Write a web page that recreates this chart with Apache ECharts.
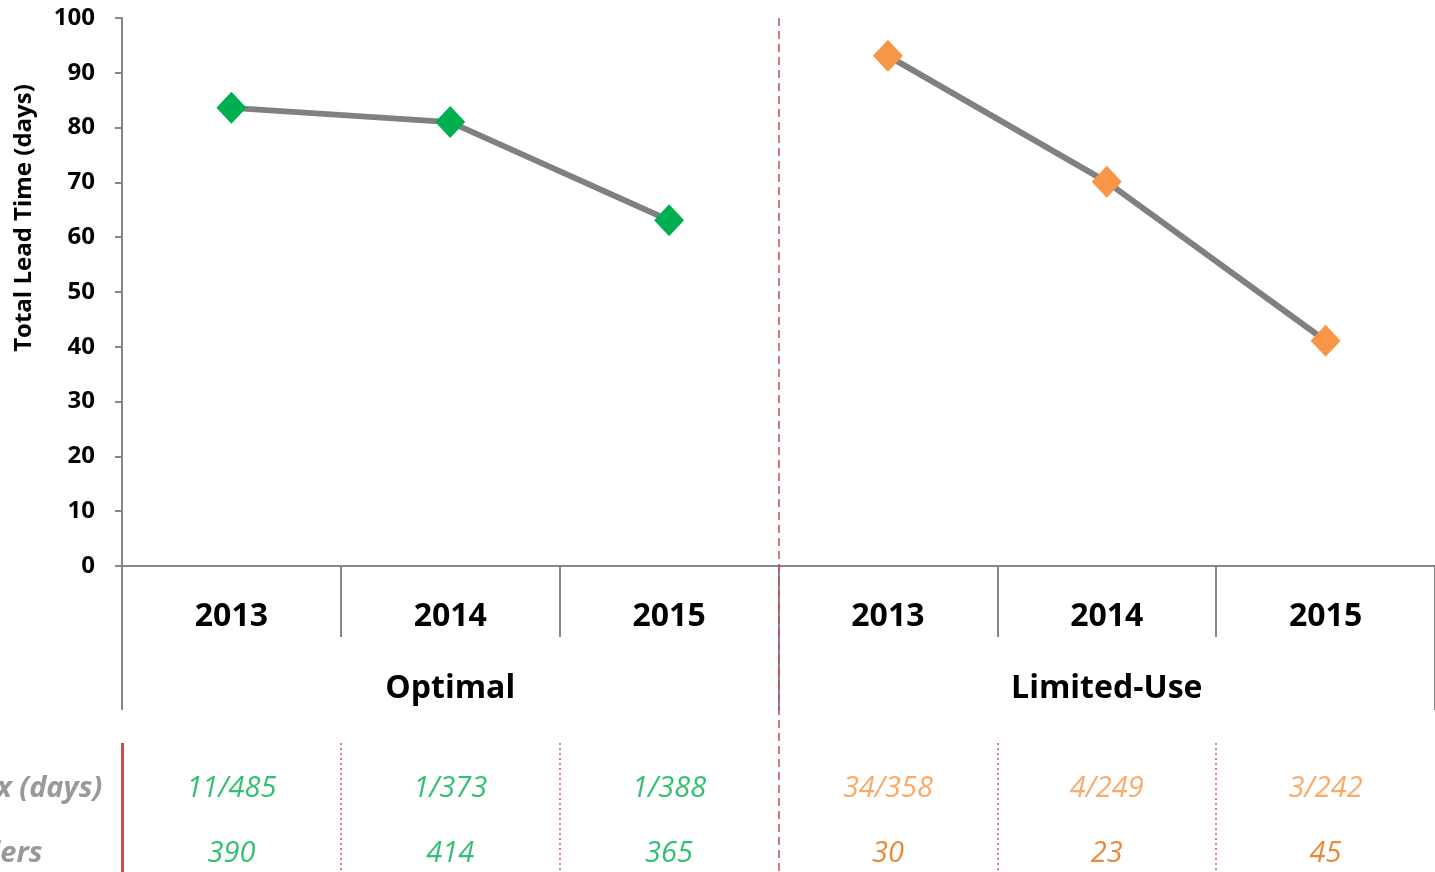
<!DOCTYPE html>
<html>
<head>
<meta charset="utf-8">
<script src="https://cdn.jsdelivr.net/npm/echarts@6/dist/echarts.min.js"></script>
<style>
  html, body { margin: 0; padding: 0; background: #ffffff; }
  #chart { width: 1435px; height: 872px; }
</style>
</head>
<body>
<div id="chart"></div>
<script>
// chart values
const years = ['2013', '2014', '2015', '2013', '2014', '2015']
const groups = ['Optimal', 'Limited-Use']
const optimal = [83.6, 81.0, 63.1]
const limitedUse = [93.1, 70.1, 41.1]
const minMax = ['11/485', '1/373', '1/388', '34/358', '4/249', '3/242']
const orders = ['390', '414', '365', '30', '23', '45']
const rowLabels = ['Min/Max (days)', 'Orders']

const GREEN = '#00B050'
const ORANGE = '#F79646'
const DARK_ORANGE = '#E46C0A'
const AXIS_GREY = '#868686'
const SEP_RED = '#C0504D'

// table rows sit in a hidden pixel-like axis under the plot (0 = plot top)
const ROW_Y = [771, 836]
const SEP_TOP = 725
const SEP_BOTTOM = 854

const chart = echarts.init(document.getElementById('chart'))

const optimalData = optimal.concat(['-', '-', '-'])
const limitedData = ['-', '-', '-'].concat(limitedUse)

const cellData = []
minMax.forEach((txt, i) => {
  cellData.push({
    value: [i + 0.5, ROW_Y[0]],
    label: { formatter: txt, color: i < 3 ? GREEN : ORANGE }
  })
})
orders.forEach((txt, i) => {
  cellData.push({
    value: [i + 0.5, ROW_Y[1]],
    label: { formatter: txt, color: i < 3 ? GREEN : DARK_ORANGE }
  })
})

const rowLabelData = rowLabels.map((txt, r) => ({
  value: [0, ROW_Y[r]],
  label: { formatter: txt }
}))

const dotted = { type: [2, 3], color: '#D9534F', width: 1.5 }
const solid = { type: 'solid', color: SEP_RED, width: 3 }
const sepLines = [
  { xAxis: 3, lineStyle: { type: [8, 5], color: SEP_RED, width: 1.5 } }
]
;[1, 2, 4, 5].forEach(x => {
  sepLines.push([{ coord: [x, SEP_TOP], lineStyle: dotted }, { coord: [x, SEP_BOTTOM], lineStyle: dotted }])
})
sepLines.push([{ coord: [0, SEP_TOP], lineStyle: solid }, { coord: [0, SEP_BOTTOM], lineStyle: solid }])

chart.setOption({
  backgroundColor: '#ffffff',
  animation: false,
  grid: [
    { left: 122, right: 0, top: 18, bottom: 306 },
    { left: 122, right: 0, top: 18, bottom: 0 }
  ],
  xAxis: [{
    type: 'category',
    gridIndex: 0,
    data: years,
    position: 'bottom',
    axisLine: { lineStyle: { color: AXIS_GREY, width: 2 } },
    axisTick: { show: true, interval: 0, length: 71, lineStyle: { color: AXIS_GREY, width: 2 } },
    axisLabel: {
      interval: 0,
      margin: 35,
      color: '#000000',
      fontFamily: 'Open Sans',
      fontWeight: 'bold',
      fontSize: 32
    }
  }, {
    type: 'category',
    gridIndex: 0,
    data: groups,
    position: 'bottom',
    axisLine: { show: false },
    axisTick: { show: true, interval: 0, length: 144, lineStyle: { color: AXIS_GREY, width: 2 } },
    axisLabel: {
      interval: 0,
      margin: 107,
      color: '#000000',
      fontFamily: 'Open Sans',
      fontWeight: 'bold',
      fontSize: 32
    }
  }, {
    type: 'value',
    gridIndex: 1,
    min: 0,
    max: 6,
    show: false
  }],
  yAxis: [{
    type: 'value',
    gridIndex: 0,
    min: 0,
    max: 100,
    interval: 10,
    name: 'Total Lead Time (days)',
    nameLocation: 'middle',
    nameGap: 86,
    nameTextStyle: {
      color: '#000000',
      fontFamily: 'Open Sans',
      fontWeight: 'bold',
      fontSize: 24,
      padding: [0, 0, 0, 148]
    },
    axisLine: { show: true, lineStyle: { color: AXIS_GREY, width: 2 } },
    axisTick: { show: true, length: 7, lineStyle: { color: AXIS_GREY, width: 2 } },
    axisLabel: {
      margin: 27,
      color: '#000000',
      fontFamily: 'Open Sans',
      fontWeight: 'bold',
      fontSize: 24
    },
    splitLine: { show: false }
  }, {
    type: 'value',
    gridIndex: 1,
    inverse: true,
    min: 0,
    max: 854,
    show: false
  }],
  series: [{
    name: 'Optimal',
    type: 'line',
    xAxisIndex: 0,
    yAxisIndex: 0,
    data: optimalData,
    symbol: 'diamond',
    symbolSize: [30, 32],
    itemStyle: { color: GREEN },
    lineStyle: { color: '#808080', width: 6 },
    z: 5
  }, {
    name: 'Limited-Use',
    type: 'line',
    xAxisIndex: 0,
    yAxisIndex: 0,
    data: limitedData,
    symbol: 'diamond',
    symbolSize: [30, 32],
    itemStyle: { color: ORANGE },
    lineStyle: { color: '#808080', width: 6 },
    z: 5
  }, {
    name: 'table',
    type: 'scatter',
    xAxisIndex: 2,
    yAxisIndex: 1,
    symbolSize: 0,
    silent: true,
    data: cellData,
    label: {
      show: true,
      position: 'inside',
      fontFamily: 'Open Sans',
      fontStyle: 'italic',
      fontSize: 29
    },
    markLine: {
      silent: true,
      symbol: 'none',
      label: { show: false },
      lineStyle: dotted,
      data: sepLines
    }
  }, {
    name: 'rowLabels',
    type: 'scatter',
    xAxisIndex: 2,
    yAxisIndex: 1,
    symbolSize: 0,
    silent: true,
    data: rowLabelData,
    label: {
      show: true,
      position: 'left',
      distance: 126,
      align: 'center',
      color: '#808080',
      fontFamily: 'Open Sans',
      fontStyle: 'italic',
      fontWeight: 'bold',
      fontSize: 29
    }
  }]
})
</script>
</body>
</html>
